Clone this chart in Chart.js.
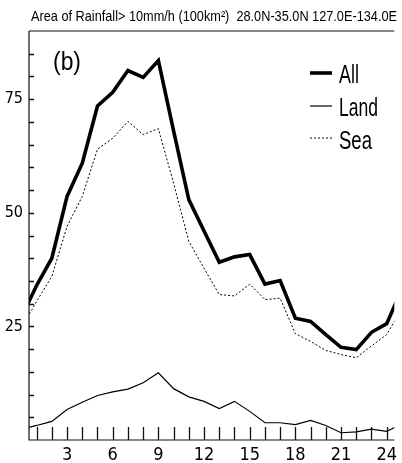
<!DOCTYPE html>
<html>
<head>
<meta charset="utf-8">
<script src="https://cdn.jsdelivr.net/npm/chart.js@4.4.0/dist/chart.umd.min.js"></script>
<style>
  body { margin: 0; background: #fff; }
  canvas { display: block; }
</style>
</head>
<body>
<canvas id="chart" width="402" height="463"></canvas>
<script>
// hour of day (0 and 25 are the wrapped ends, clipped by the axis)
const hours = [0, 1, 2, 3, 4, 5, 6, 7, 8, 9, 10, 11, 12, 13, 14, 15, 16, 17, 18, 19, 20, 21, 22, 23, 24, 25];
const allArea = [27, 34, 40.0, 53.6, 60.9, 73.5, 76.5, 81.3, 79.8, 83.5, 68, 52.9, 46, 39.1, 40.3, 40.8, 34.3, 35.1, 26.8, 26.1, 23.2, 20.4, 19.9, 23.7, 25.6, 33.2];
const landArea = [2.4, 3.2, 4.1, 6.7, 8.3, 9.8, 10.6, 11.2, 12.6, 14.8, 11.3, 9.5, 8.5, 6.9, 8.5, 6.3, 3.8, 3.8, 3.4, 4.3, 3.2, 1.6, 1.8, 2.4, 1.9, 3.5];
const seaArea = [24.7, 30.5, 36.0, 47.0, 53.6, 64.0, 66.4, 70.1, 67.2, 68.5, 56.5, 43.7, 37.8, 32.0, 31.7, 34.3, 30.9, 31.2, 23.4, 21.7, 19.7, 18.8, 18.1, 20.7, 23.2, 29];
const xTickHours = [1, 2, 3, 4, 5, 6, 7, 8, 9, 10, 11, 12, 13, 14, 15, 16, 17, 18, 19, 20, 21, 22, 23, 24];
const xLabels = [3, 6, 9, 12, 15, 18, 21, 24];
const yLabels = [25, 50, 75];
const titleText = 'Area of Rainfall> 10mm/h (100km\u00b2)  28.0N-35.0N 127.0E-134.0E';
const panelText = '(b)';

const FONT = "'Liberation Sans Narrow', 'DejaVu Sans Condensed', 'Liberation Sans', sans-serif";

const toPoints = (vals) => hours.map((h, i) => ({ x: h, y: vals[i] }));

// text squeezed to a given width, the figure uses a narrow Helvetica
function drawText(ctx, text, x, y, size, width, align) {
  ctx.save();
  ctx.font = size + "px 'Liberation Sans', sans-serif";
  ctx.textBaseline = 'alphabetic';
  ctx.fillStyle = '#000';
  const w = ctx.measureText(text).width;
  const sx = width ? width / w : 1;
  let x0 = x;
  if (align === 'right') x0 = x - w * sx;
  ctx.translate(x0, y);
  ctx.scale(sx, 1);
  ctx.fillText(text, 0, 0);
  ctx.restore();
}

const decorations = {
  id: 'decorations',
  afterDraw(chart) {
    const { ctx, chartArea: a, scales } = chart;
    ctx.save();
    ctx.strokeStyle = '#111';
    ctx.lineWidth = 1.2;
    // frame: top and left, bottom
    ctx.beginPath();
    ctx.moveTo(a.left, a.top);
    ctx.lineTo(a.right, a.top);
    ctx.moveTo(a.left, a.top);
    ctx.lineTo(a.left, a.bottom);
    ctx.lineTo(a.right, a.bottom);
    ctx.stroke();
    // inward ticks
    ctx.lineWidth = 1.3;
    ctx.beginPath();
    xTickHours.forEach(h => {
      const px = Math.round(scales.x.getPixelForValue(h)) + 0.5;
      ctx.moveTo(px, a.bottom);
      ctx.lineTo(px, a.bottom - 13);
    });
    for (let v = 5; v < 90; v += 5) {
      const py = Math.round(scales.y.getPixelForValue(v)) + 0.5;
      ctx.moveTo(a.left, py);
      ctx.lineTo(a.left + 5, py);
    }
    ctx.stroke();

    // legend
    const items = chart.data.datasets;
    const rows = [73, 106, 138];
    items.forEach((ds, i) => {
      ctx.save();
      ctx.strokeStyle = '#000';
      ctx.lineWidth = ds.borderWidth;
      ctx.setLineDash(ds.borderDash || []);
      ctx.beginPath();
      ctx.moveTo(310, rows[i]);
      ctx.lineTo(332, rows[i]);
      ctx.stroke();
      ctx.restore();
    });
    drawText(ctx, items[0].label, 339, 83, 25, 20);
    drawText(ctx, items[1].label, 339, 116, 25, 39);
    drawText(ctx, items[2].label, 339, 149, 25, 33);

    drawText(ctx, titleText, 31, 21, 15, 366);
    drawText(ctx, panelText, 53, 70, 26, 28);
    ctx.restore();
  }
};

new Chart(document.getElementById('chart'), {
  type: 'line',
  data: {
    datasets: [
      {
        label: 'All',
        data: toPoints(allArea),
        borderColor: '#000',
        borderWidth: 3.6,
        pointRadius: 0,
        tension: 0,
        clip: 0
      },
      {
        label: 'Land',
        data: toPoints(landArea),
        borderColor: '#000',
        borderWidth: 1.2,
        pointRadius: 0,
        tension: 0,
        clip: 0
      },
      {
        label: 'Sea',
        data: toPoints(seaArea),
        borderColor: '#000',
        borderWidth: 1,
        borderDash: [2, 2],
        pointRadius: 0,
        tension: 0,
        clip: 0
      }
    ]
  },
  options: {
    responsive: false,
    animation: false,
    layout: { padding: { top: 31, right: 0, bottom: 0, left: 0 } },
    plugins: {
      legend: { display: false },
      tooltip: { enabled: false },
      title: { display: false }
    },
    scales: {
      x: {
        type: 'linear',
        min: 0.5,
        max: 24.5,
        afterBuildTicks: (axis) => { axis.ticks = xTickHours.map(v => ({ value: v })); },
        afterFit: (axis) => { axis.height = 23; },
        grid: { display: false, drawTicks: false },
        border: { display: false },
        ticks: {
          autoSkip: false,
          maxRotation: 0,
          padding: 5,
          color: '#000',
          font: { family: FONT, size: 18 },
          callback: (v) => xLabels.includes(v) ? String(v) : ''
        }
      },
      y: {
        min: 0,
        max: 90,
        afterFit: (axis) => { axis.width = 29; },
        grid: { display: false, drawTicks: false },
        border: { display: false },
        ticks: {
          stepSize: 5,
          autoSkip: false,
          padding: 6,
          color: '#000',
          font: { family: FONT, size: 16 },
          callback: (v) => yLabels.includes(v) ? String(v) : ''
        }
      }
    }
  },
  plugins: [decorations]
});
</script>
</body>
</html>
